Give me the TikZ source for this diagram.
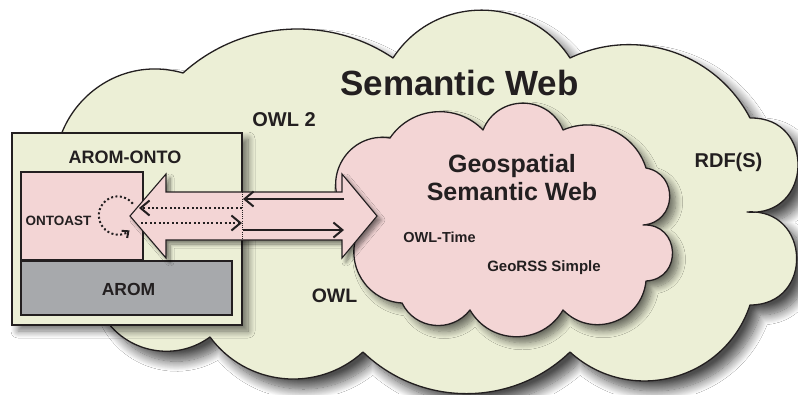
\documentclass[tikz,border=0pt]{standalone}
\usepackage{fontspec}
\setmainfont{Liberation Sans}
\usetikzlibrary{arrows.meta,shadows.blur}
\definecolor{cloudbg}{RGB}{236,239,214}
\definecolor{pinkbg}{RGB}{243,213,213}
\definecolor{aromgray}{RGB}{167,169,172}
\definecolor{ink}{RGB}{35,31,32}
\tikzset{
  bmp/.code={\pgfmathsetmacro\lz{1.703/(1+cos(#1))}\tikzset{bend left=#1,looseness=\lz}},
  outl/.style={draw=ink, line width=1.3pt, line join=round},
  lbl/.style={text=ink, font=\bfseries\fontsize{#1}{#1}\selectfont, inner sep=0pt, anchor=base},
  bigshadow/.style={blur shadow={shadow xshift=10pt, shadow yshift=-10pt, shadow blur radius=10pt, shadow blur steps=14, shadow opacity=70}},
  smallshadow/.style={blur shadow={shadow xshift=6pt, shadow yshift=-6pt, shadow blur radius=7pt, shadow blur steps=10, shadow opacity=55}},
  arrshadow/.style={blur shadow={shadow xshift=4pt, shadow yshift=-4pt, shadow blur radius=4pt, shadow blur steps=8, shadow opacity=50}},
  boxst/.style={draw=ink, line width=1.1pt, inner sep=0pt},
  barb/.style={-{Straight Barb[length=9pt,width=15pt,line width=2pt]}},
  smallbarb/.style={-{Straight Barb[length=5pt,width=9pt,line width=2pt]}},
  solidln/.style={draw=ink, line width=2.4pt},
  dotln/.style={draw=ink, line width=2pt, dash pattern=on 2pt off 2.4pt},
}
\begin{document}
\begin{tikzpicture}[x=1pt,y=-1pt]
\fill[white] (0,0) rectangle (798,394);
\useasboundingbox (0,0) rectangle (798,394);
% Semantic Web cloud
\draw[outl, fill=cloudbg, bigshadow] (183,73) to[bmp=38] (393,58) to[bmp=57] (570,58)
  to[bmp=44] (750,118) to[bmp=93] (747,212) to[bmp=92] (750,305) to[bmp=57] (570,352)
  to[bmp=44] (363,352) to[bmp=48] (210,337) to[bmp=50] (100,310) -- (60,200)
  to[bmp=62] (183,73) -- cycle;
% AROM-ONTO box
\node[boxst, fill=cloudbg, smallshadow, minimum width=230pt, minimum height=192pt] (aromonto) at (127,229) {};
\node[boxst, fill=pinkbg, minimum width=122pt, minimum height=88pt] (ontoastbox) at (82,216) {};
\node[boxst, fill=aromgray, minimum width=211pt, minimum height=54pt] (arombox) at (126.5,288) {};
% Geospatial cloud
\draw[outl, fill=pinkbg, smallshadow] (345,212) to[bmp=68] (390,138) to[bmp=51] (483,130)
  to[bmp=68] (563,130) to[bmp=48] (646,168) to[bmp=83] (643,225) to[bmp=90] (646,281)
  to[bmp=65] (563,310) to[bmp=60] (470,310) to[bmp=58] (402,303) to[bmp=55] (358,232) -- cycle;
% big double arrow
\draw[draw=ink, line width=1.1pt, line join=miter, fill=pinkbg, arrshadow]
  (130,216) -- (166,174) -- (166,192) -- (342,192) -- (342,174) -- (377,216)
  -- (342,258) -- (342,240) -- (166,240) -- (166,258) -- cycle;
% inner connectors
\coordinate (r1) at (344,199); \coordinate (m1) at (243,199);
\coordinate (m2) at (242,208); \coordinate (l2) at (139,208);
\coordinate (l3) at (141,223); \coordinate (m3) at (242,223);
\coordinate (m4) at (243,230); \coordinate (r4) at (344,230);
\coordinate (vt) at (242,192); \coordinate (vb) at (242,240);
\draw[solidln, barb] (r1) -- (m1);
\draw[dotln, barb] (m2) -- (l2);
\draw[dotln, barb] (l3) -- (m3);
\draw[solidln, barb] (m4) -- (r4);
\draw[draw=ink, line width=0.8pt, dash pattern=on 1pt off 1.2pt] (vt) -- (vb);
% self loop
\coordinate (loopst) at (132.8,203.7);
\draw[dotln, smallbarb] (loopst) arc[start angle=-38, end angle=-308, radius=19];
% labels
\node[lbl=35] (sw) at (459.5,95) {Semantic Web};
\node[lbl=20] (owl2) at (284,126) {OWL 2};
\node[lbl=20] (rdfs) at (728.5,167) {RDF(S)};
\node[lbl=25] (geo1) at (512,172) {Geospatial};
\node[lbl=25] (geo2) at (512,200) {Semantic Web};
\node[lbl=14.5] (owltime) at (439.5,242) {OWL-Time};
\node[lbl=15] (georss) at (544,271) {GeoRSS Simple};
\node[lbl=19.5] (owl) at (334.5,302) {OWL};
\node[lbl=13.5] (ontoast) at (58.5,225) {ONTOAST};
\node[lbl=17.5] (arom) at (128.5,295) {AROM};
\node[lbl=18] (aromontolbl) at (125,163) {AROM-ONTO};
\end{tikzpicture}
\end{document}
